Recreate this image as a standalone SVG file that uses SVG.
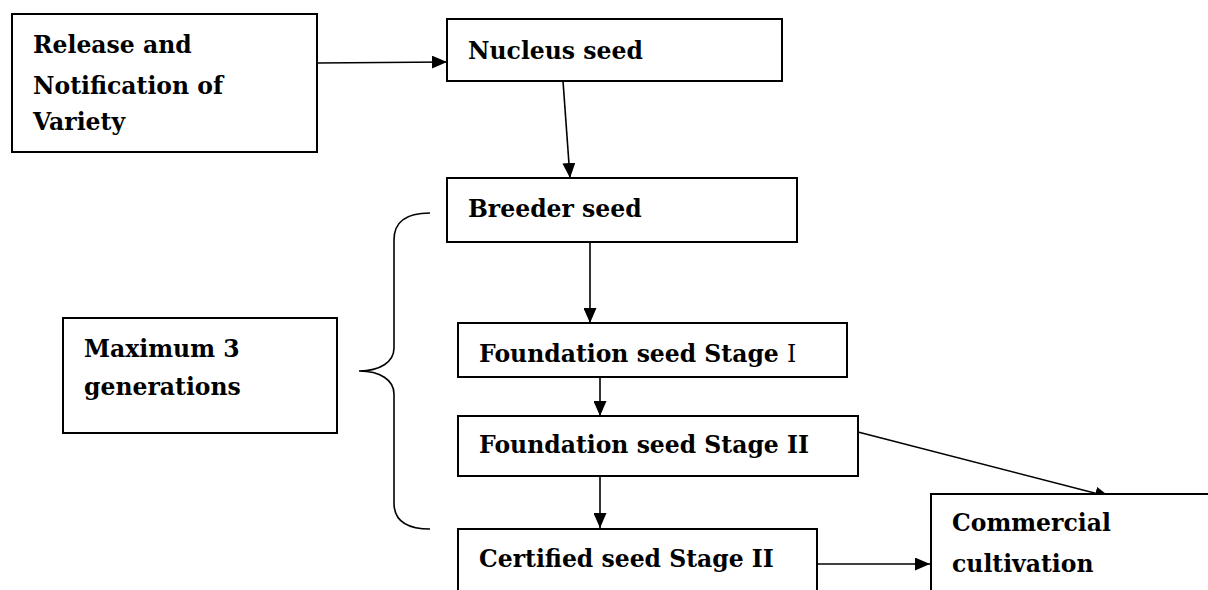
<svg xmlns="http://www.w3.org/2000/svg" width="1208" height="590" viewBox="0 0 1208 590">
<defs>
<marker id="ah" markerWidth="15" markerHeight="13" refX="15" refY="6.5" orient="auto" markerUnits="userSpaceOnUse">
<path d="M0,0 L15,6.5 L0,13 Z" fill="#000"/>
</marker>
<style>
.box{fill:#fff;stroke:#000;stroke-width:2}
.t{font-family:"DejaVu Serif","Liberation Serif",serif;font-weight:bold;font-size:23.5px;fill:#000}
.n{font-weight:normal}
.c{fill:none;stroke:#000;stroke-width:1.6}
</style>
</defs>
<rect width="1208" height="590" fill="#fff"/>
<g id="connectors">
<line class="c" x1="317" y1="63" x2="447" y2="62" marker-end="url(#ah)"/>
<line class="c" x1="563" y1="81" x2="570" y2="178" marker-end="url(#ah)"/>
<line class="c" x1="590" y1="242" x2="590" y2="323" marker-end="url(#ah)"/>
<line class="c" x1="600" y1="377" x2="600" y2="416" marker-end="url(#ah)"/>
<line class="c" x1="600" y1="476" x2="600" y2="528" marker-end="url(#ah)"/>
<line class="c" x1="858" y1="432" x2="1110" y2="497" marker-end="url(#ah)"/>
<line class="c" x1="817" y1="564" x2="930" y2="564" marker-end="url(#ah)"/>
<path id="brace" class="c" d="M430,213 C405,213 394,222 394,240 L394,348 C394,362 380,371 359,371 C380,371 394,380 394,394 L394,503 C394,520 405,529 430,529"/>
</g>
<g id="release">
<rect class="box" x="12" y="14" width="305" height="138"/>
<text class="t" x="33" y="53">Release and</text>
<text class="t" x="33" y="94">Notification of</text>
<text class="t" x="33" y="130">Variety</text>
</g>
<g id="nucleus">
<rect class="box" x="447" y="19" width="335" height="62"/>
<text class="t" x="468" y="59">Nucleus seed</text>
</g>
<g id="breeder">
<rect class="box" x="447" y="178" width="350" height="64"/>
<text class="t" x="468" y="217">Breeder seed</text>
</g>
<g id="maximum">
<rect class="box" x="63" y="318" width="274" height="115"/>
<text class="t" x="84" y="357">Maximum 3</text>
<text class="t" x="84" y="395">generations</text>
</g>
<g id="foundation1">
<rect class="box" x="458" y="323" width="389" height="54"/>
<text class="t" x="479" y="362">Foundation seed Stage <tspan class="n">I</tspan></text>
</g>
<g id="foundation2">
<rect class="box" x="458" y="416" width="400" height="60"/>
<text class="t" x="479" y="453">Foundation seed Stage II</text>
</g>
<g id="certified">
<rect class="box" x="458" y="529" width="359" height="70"/>
<text class="t" x="479" y="567">Certified seed Stage II</text>
</g>
<g id="commercial">
<rect class="box" x="931" y="494" width="290" height="110"/>
<text class="t" x="952" y="531">Commercial</text>
<text class="t" x="952" y="572">cultivation</text>
</g>
</svg>
